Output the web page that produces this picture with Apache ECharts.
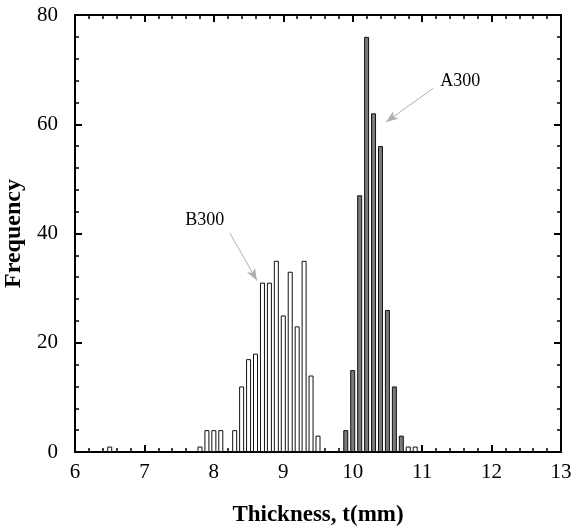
<!DOCTYPE html>
<html>
<head>
<meta charset="utf-8">
<script src="https://cdn.jsdelivr.net/npm/echarts@6/dist/echarts.min.js"></script>
<style>html,body{margin:0;padding:0;background:#fff}#c{width:572px;height:531px}</style>
</head>
<body>
<div id="c"></div>
<script>
// B300 (white bars): thickness bins (mm) and frequencies
var b300Thickness = [6.5, 7.8, 7.9, 8.0, 8.1, 8.3, 8.4, 8.5, 8.6, 8.7, 8.8, 8.9, 9.0, 9.1, 9.2, 9.3, 9.4, 9.5, 10.8, 10.9];
var b300Freq      = [1,   1,   4,   4,   4,   4,   12,  17,  18,  31,  31,  35,  25,  33,  23,  35,  14,  3,   1,    1];
// A300 (grey bars)
var a300Thickness = [9.9, 10.0, 10.1, 10.2, 10.3, 10.4, 10.5, 10.6, 10.7];
var a300Freq      = [4,   15,   47,   76,   62,   56,   26,   12,   3];
// axis ticks
var xTicks = [6, 7, 8, 9, 10, 11, 12, 13];
var yTicks = [0, 20, 40, 60, 80];
// annotations: [label, labelPos, arrowTail, arrowHead] in data units
var annB300 = {text: 'B300', label: [7.87, 42.4], tail: [8.23, 40.1], head: [8.62, 31.4]};
var annA300 = {text: 'A300', label: [11.55, 67.9], tail: [11.16, 66.6], head: [10.48, 60.4]};

var FONT = '"Liberation Serif", "Times New Roman", serif';

function pairs(xs, ys) { return xs.map(function (x, i) { return [x, ys[i]]; }); }

var chart = echarts.init(document.getElementById('c'));

function xAxisDef(pos, showLabel) {
  return {
    type: 'value', position: pos, min: xTicks[0], max: xTicks[xTicks.length - 1], interval: 1,
    name: showLabel ? 'Thickness, t(mm)' : '', nameLocation: 'middle', nameGap: 52,
    nameTextStyle: {fontFamily: FONT, fontWeight: 'bold', fontSize: 23, color: '#000'},
    axisLine: {show: true, onZero: false, lineStyle: {color: '#000', width: 2}},
    axisTick: {show: true, inside: true, length: 7, lineStyle: {color: '#000', width: 2}},
    minorTick: {show: true, splitNumber: 5, length: 4, lineStyle: {color: '#000', width: 1.5}},
    axisLabel: {show: showLabel, fontFamily: FONT, fontSize: 21, color: '#000', margin: 10},
    splitLine: {show: false}
  };
}
function yAxisDef(pos, showLabel) {
  return {
    type: 'value', position: pos, min: yTicks[0], max: yTicks[yTicks.length - 1], interval: 20,
    name: showLabel ? 'Frequency' : '', nameLocation: 'middle', nameGap: 43,
    nameTextStyle: {fontFamily: FONT, fontWeight: 'bold', fontSize: 24, color: '#000'},
    axisLine: {show: true, onZero: false, lineStyle: {color: '#000', width: 2}},
    axisTick: {show: true, inside: true, length: 7, lineStyle: {color: '#000', width: 2}},
    minorTick: {show: true, splitNumber: 5, length: 4, lineStyle: {color: '#000', width: 1.5}},
    axisLabel: {show: showLabel, fontFamily: FONT, fontSize: 21, color: '#000', margin: 17},
    splitLine: {show: false}
  };
}

function arrowLine(a) {
  return {
    silent: true, symbol: ['none', 'arrow'], symbolSize: [7, 12],
    lineStyle: {color: '#b0b0b0', width: 1, type: 'solid'},
    label: {show: false},
    data: [[{coord: a.tail}, {coord: a.head}]]
  };
}
function labelPoint(a) {
  return {
    silent: true, symbol: 'rect', symbolSize: 1, itemStyle: {color: 'rgba(0,0,0,0)'},
    label: {show: true, position: 'inside', formatter: a.text, fontFamily: FONT, fontSize: 18, color: '#000'},
    data: [{coord: a.label}]
  };
}

chart.setOption({
  animation: false,
  backgroundColor: '#fff',
  grid: {left: 75, right: 11, top: 15, bottom: 79, containLabel: false, outerBoundsMode: 'none'},
  xAxis: [xAxisDef('bottom', true), xAxisDef('top', false)],
  yAxis: [yAxisDef('left', true), yAxisDef('right', false)],
  series: [
    {
      name: 'A300', type: 'bar', xAxisIndex: 0, yAxisIndex: 0,
      barWidth: 5, barGap: '-100%',
      itemStyle: {color: '#7a7a7a', borderColor: '#111', borderWidth: 1},
      data: pairs(a300Thickness, a300Freq),
      markLine: arrowLine(annA300),
      markPoint: labelPoint(annA300)
    },
    {
      name: 'B300', type: 'bar', xAxisIndex: 0, yAxisIndex: 0,
      barWidth: 5, barGap: '-100%',
      itemStyle: {color: '#ffffff', borderColor: '#111', borderWidth: 1},
      data: pairs(b300Thickness, b300Freq),
      markLine: arrowLine(annB300),
      markPoint: labelPoint(annB300)
    }
  ]
});
</script>
</body>
</html>
